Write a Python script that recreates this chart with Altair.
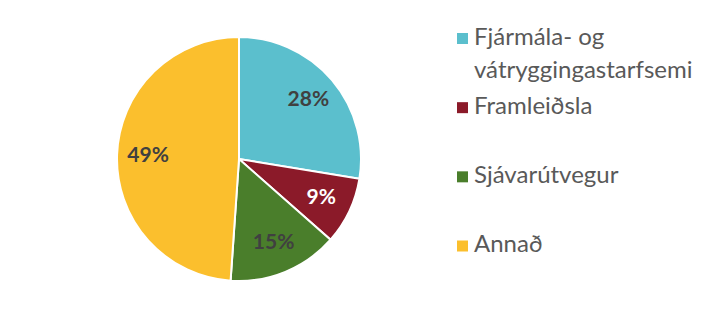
import altair as alt
import pandas as pd

categories = ["Fjármála- og vátryggingastarfsemi", "Framleiðsla", "Sjávarútvegur", "Annað"]
legend_labels = ["Fjármála- og\nvátryggingastarfsemi", "Framleiðsla", "Sjávarútvegur", "Annað"]
values = [27.6, 8.9, 14.6, 48.9]
colors = ["#5BBFCD", "#8B1A29", "#4A7E2B", "#FBBF2D"]
label_colors = ["#404040", "#FFFFFF", "#404040", "#404040"]

df = pd.DataFrame({
    "cat": categories,
    "leg": legend_labels,
    "val": values,
    "order": list(range(len(categories))),
    "lab": [f"{round(v)}%" for v in values],
    "lc": label_colors,
})

cx, cy, R = 239, 159, 122
color_scale = alt.Scale(domain=categories, range=colors)

base = alt.Chart(df).encode(
    theta=alt.Theta("val:Q", stack=True),
    order=alt.Order("order:Q"),
)

pie = base.mark_arc(outerRadius=R, stroke="white", strokeWidth=2).encode(
    x=alt.value(cx), y=alt.value(cy),
    color=alt.Color("cat:N", scale=color_scale, legend=None),
)

text = base.mark_text(radius=91, font="Lato", fontWeight="bold", fontSize=21).encode(
    x=alt.value(cx), y=alt.value(cy),
    text="lab:N",
    color=alt.Color("lc:N", scale=None),
)

leg_y = alt.Y("cat:N", sort=categories, axis=None,
              scale=alt.Scale(type="point", domain=categories, range=[38.5, 246], padding=0))

leg_sq = alt.Chart(df).mark_square(size=121, opacity=1).encode(
    x=alt.value(462.5),
    y=leg_y,
    color=alt.Color("cat:N", scale=color_scale, legend=None),
)

leg_txt = alt.Chart(df).mark_text(
    align="left", baseline="top", dy=-13, font="Lato", fontSize=24,
    color="#595959", lineBreak="\n", lineHeight=33,
).encode(
    x=alt.value(474),
    y=leg_y,
    text="leg:N",
)

chart = alt.layer(pie, text, leg_sq, leg_txt).properties(
    width=713, height=319, autosize="none", padding=0,
).configure_view(stroke=None)

chart.save("out.html", embed_options={"renderer": "svg", "actions": False})
